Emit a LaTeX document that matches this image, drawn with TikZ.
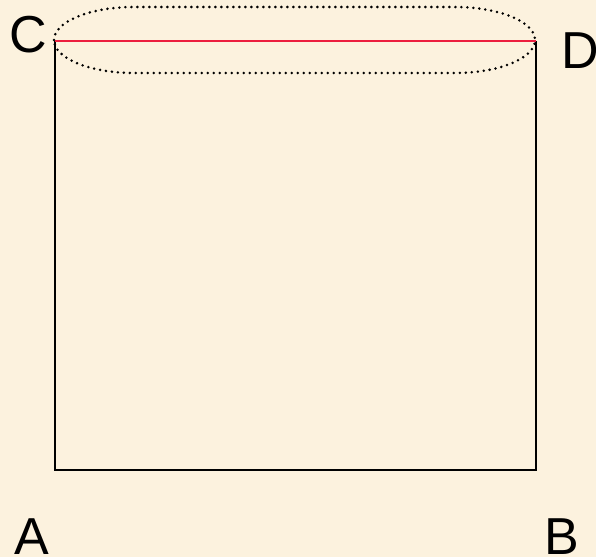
\documentclass[tikz,border=0pt]{standalone}
\usepackage{fontspec}
\setmainfont{Liberation Sans}
\definecolor{bg}{RGB}{252,242,222}
\definecolor{redline}{RGB}{236,30,62}
\begin{document}
\begin{tikzpicture}[x=1pt,y=-1pt,
  lbl/.style={font=\fontsize{52}{60}\selectfont, inner sep=0pt, anchor=center},
  edge/.style={line width=2pt, black},
  dots/.style={line width=2.8pt, line cap=round, dash pattern=on 0pt off 6pt}]
\fill[bg] (0,0) rectangle (596,557);
\useasboundingbox (0,0) rectangle (596,557);
\coordinate (Cp) at (55,41);
\coordinate (Dp) at (536,41);
\coordinate (Ap) at (55,470);
\coordinate (Bp) at (536,470);
\draw[edge] (Cp) -- (Ap) -- (Bp) -- (Dp);
\draw[redline, line width=2pt] (Cp) -- (Dp);
\draw[dots] (54,40) arc[start angle=180, end angle=90, x radius=80, y radius=-33]
  -- (455,7) arc[start angle=90, end angle=0, x radius=80, y radius=-33]
  arc[start angle=0, end angle=-90, x radius=80, y radius=-33]
  -- (134,73) arc[start angle=270, end angle=180, x radius=80, y radius=-33] -- cycle;
\node[lbl] (C) at (28,35) {C};
\node[lbl] (D) at (580,51) {D};
\node[lbl] (A) at (32,537) {A};
\node[lbl] (B) at (562,537) {B};
\end{tikzpicture}
\end{document}
